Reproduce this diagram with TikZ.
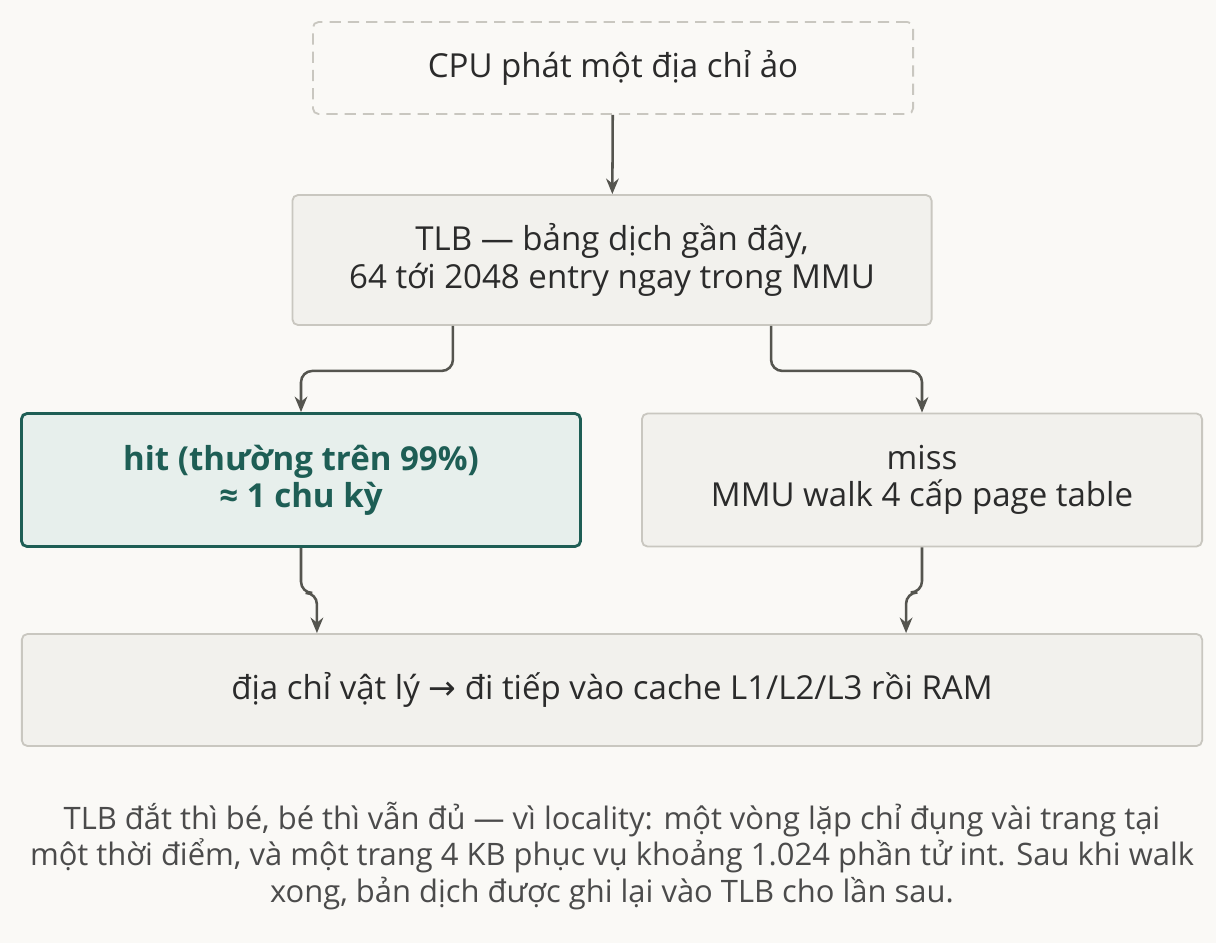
\documentclass[tikz,border=0pt]{standalone}
\usepackage{fontspec}
\setmainfont{Open Sans}
\newfontfamily\symfont{DejaVu Sans}
\usetikzlibrary{arrows.meta, positioning, calc}
\definecolor{bgcol}{HTML}{FAF9F6}
\definecolor{boxfill}{HTML}{F2F1ED}
\definecolor{boxline}{HTML}{C9C7C0}
\definecolor{hitline}{HTML}{1E5E55}
\definecolor{hitfill}{HTML}{E7EFEC}
\definecolor{txt}{HTML}{2B2B2B}
\definecolor{arr}{HTML}{55554F}
\begin{document}
\begin{tikzpicture}[x=0.025cm, y=-0.025cm,
        box/.style={rectangle, rounded corners=4pt, draw=boxline, line width=1.3pt, fill=boxfill,
          text=txt, align=center, font=\fontsize{23.5}{26.5}\selectfont, inner sep=0pt},
        start/.style={box, dashed, fill=bgcol, dash pattern=on 8pt off 5pt},
        hitbox/.style={box, draw=hitline, fill=hitfill, line width=2pt, text=hitline,
          font=\fontsize{23.5}{26.5}\selectfont\bfseries},
        flow/.style={draw=arr, line width=1.8pt, rounded corners=8pt, -{Stealth[length=11pt, width=9pt]}}
    ]
        \fill[bgcol] (0,0) rectangle (1216,943);
        \node[start, minimum width=15cm, minimum height=2.3cm] (cpu) at (613,68) {CPU phát một địa chỉ ảo};
        \node[box, minimum width=15.975cm, minimum height=3.25cm] (tlb) at (612,260) {TLB — bảng dịch gần đây,\\64 tới 2048 entry ngay trong MMU};
        \node[hitbox, minimum width=13.975cm, minimum height=3.325cm] (hit) at (301,480) {hit (thường trên 99\%)\\≈ 1 chu kỳ};
        \node[box, minimum width=14cm, minimum height=3.325cm] (miss) at (922,480) {miss\\MMU walk 4 cấp page table};
        \node[box, minimum width=29.5cm, minimum height=2.8cm] (phys) at (612,690) {địa chỉ vật lý {\symfont →} đi tiếp vào cache L1/L2/L3 rồi RAM};
        \node[text=txt!85, align=center, font=\fontsize{22}{25.8}\selectfont] (note) at (612,856)
          {TLB đắt thì bé, bé thì vẫn đủ — vì locality: một vòng lặp chỉ đụng vài trang tại\\một thời điểm, và một trang 4 KB phục vụ khoảng 1.024 phần tử int. Sau khi walk\\xong, bản dịch được ghi lại vào TLB cho lần sau.};
        % Flow
        \draw[flow] (cpu) -- (tlb);
        \draw[flow] ([xshift=-3.975cm]tlb.south) -- ++(0,45) -| (hit.north);
        \draw[flow] ([xshift=3.975cm]tlb.south) -- ++(0,45) -| (miss.north);
        \draw[flow] (hit.south) -- ++(0,45) -| ([xshift=-7.375cm]phys.north);
        \draw[flow] (miss.south) -- ++(0,45) -| ([xshift=7.35cm]phys.north);
\end{tikzpicture}
\end{document}
